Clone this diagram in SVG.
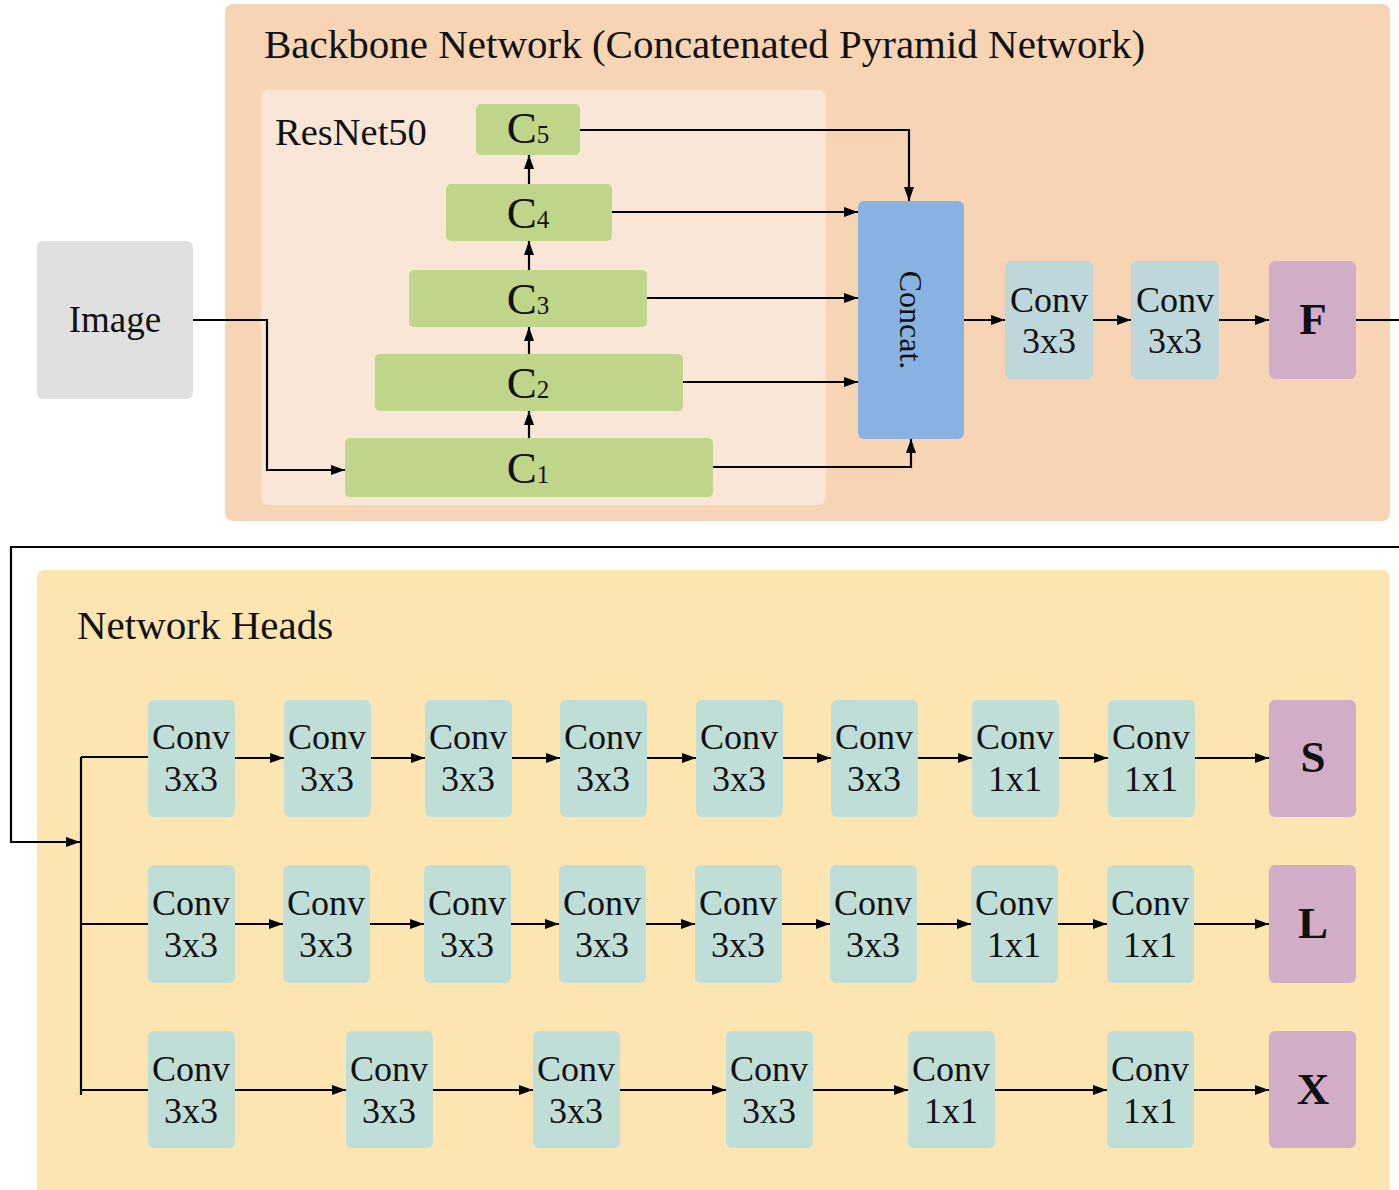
<svg xmlns="http://www.w3.org/2000/svg" width="1399" height="1190" viewBox="0 0 1399 1190" font-family="'Liberation Serif', 'Times New Roman', Times, serif">
<defs>
<marker id="ah" viewBox="0 0 14 10" refX="14" refY="5" markerWidth="14" markerHeight="10" markerUnits="userSpaceOnUse" orient="auto"><path d="M0,0 L14,5 L0,10 z" fill="#000"/></marker>
</defs>
<style>
text{fill:#111}
.t{font-size:41px}
.lbl{font-size:36px;text-anchor:middle}
.big{font-size:45px;font-weight:bold;text-anchor:middle}
.cl{font-size:45px;text-anchor:middle}
.sub{font-size:25px}
.conv{fill:#C0DED8}
.bconv{fill:#BDD7DB}
.green{fill:#BFD58A}
.out{fill:#D1ADC8}
.ln{fill:none;stroke:#000;stroke-width:2.2}
.ar{fill:none;stroke:#000;stroke-width:2.2;marker-end:url(#ah)}
</style>
<rect x="0" y="0" width="1399" height="1190" fill="#fff"/>
<g id="backbone">
<rect x="225" y="4" width="1165" height="517" rx="8" fill="#F7D4B4"/>
<text class="t" x="264" y="58">Backbone Network (Concatenated Pyramid Network)</text>
</g>
<g id="resnet50">
<rect x="261" y="90" width="565" height="415" rx="8" fill="#FAE6D7"/>
<text x="275" y="145" style="font-size:38.5px">ResNet50</text>
</g>
<g id="heads">
<rect x="37" y="570" width="1353" height="630" rx="8" fill="#FCE5B1"/>
<text class="t" x="77" y="639">Network Heads</text>
</g>
<g id="image"><rect x="37" y="241" width="156" height="158" rx="6" fill="#E0E0E0"/><text x="115" y="332" style="font-size:37px;text-anchor:middle">Image</text></g>
<g id="c5"><rect class="green" x="476" y="104" width="104" height="51" rx="5"/><text class="cl" x="528" y="143">C<tspan class="sub">5</tspan></text></g>
<g id="c4"><rect class="green" x="446" y="184" width="166" height="57" rx="5"/><text class="cl" x="528" y="228">C<tspan class="sub">4</tspan></text></g>
<g id="c3"><rect class="green" x="409" y="270" width="238" height="57" rx="5"/><text class="cl" x="528" y="314">C<tspan class="sub">3</tspan></text></g>
<g id="c2"><rect class="green" x="375" y="354" width="308" height="57" rx="5"/><text class="cl" x="528" y="398">C<tspan class="sub">2</tspan></text></g>
<g id="c1"><rect class="green" x="345" y="438" width="368" height="59" rx="5"/><text class="cl" x="528" y="483">C<tspan class="sub">1</tspan></text></g>
<g id="concat"><rect x="858" y="201" width="106" height="238" rx="6" fill="#88B2E2"/><text transform="translate(911,320) rotate(90)" x="0" y="11" style="font-size:32px;text-anchor:middle">Concat.</text></g>
<g id="bconv1"><rect class="bconv" x="1005" y="261" width="88" height="118" rx="6"/><text class="lbl" x="1049" y="312">Conv</text><text class="lbl" x="1049" y="353">3x3</text></g>
<g id="bconv2"><rect class="bconv" x="1131" y="261" width="88" height="118" rx="6"/><text class="lbl" x="1175" y="312">Conv</text><text class="lbl" x="1175" y="353">3x3</text></g>
<g id="F"><rect class="out" x="1269" y="261" width="87" height="118" rx="6"/><text class="big" x="1313" y="334">F</text></g>

<g id="row-s">
<g id="s1"><rect class="conv" x="148" y="700" width="87" height="117" rx="6"/><text class="lbl" x="191" y="749">Conv</text><text class="lbl" x="191" y="791">3x3</text></g>
<g id="s2"><rect class="conv" x="284" y="700" width="87" height="117" rx="6"/><text class="lbl" x="327" y="749">Conv</text><text class="lbl" x="327" y="791">3x3</text></g>
<g id="s3"><rect class="conv" x="425" y="700" width="87" height="117" rx="6"/><text class="lbl" x="468" y="749">Conv</text><text class="lbl" x="468" y="791">3x3</text></g>
<g id="s4"><rect class="conv" x="560" y="700" width="87" height="117" rx="6"/><text class="lbl" x="603" y="749">Conv</text><text class="lbl" x="603" y="791">3x3</text></g>
<g id="s5"><rect class="conv" x="696" y="700" width="87" height="117" rx="6"/><text class="lbl" x="739" y="749">Conv</text><text class="lbl" x="739" y="791">3x3</text></g>
<g id="s6"><rect class="conv" x="831" y="700" width="87" height="117" rx="6"/><text class="lbl" x="874" y="749">Conv</text><text class="lbl" x="874" y="791">3x3</text></g>
<g id="s7"><rect class="conv" x="972" y="700" width="87" height="117" rx="6"/><text class="lbl" x="1015" y="749">Conv</text><text class="lbl" x="1015" y="791">1x1</text></g>
<g id="s8"><rect class="conv" x="1108" y="700" width="87" height="117" rx="6"/><text class="lbl" x="1151" y="749">Conv</text><text class="lbl" x="1151" y="791">1x1</text></g>
<g id="S"><rect class="out" x="1269" y="700" width="87" height="117" rx="6"/><text class="big" x="1313" y="772">S</text></g>
</g>
<g id="row-l">
<g id="l1"><rect class="conv" x="148" y="865" width="87" height="118" rx="6"/><text class="lbl" x="191" y="915">Conv</text><text class="lbl" x="191" y="957">3x3</text></g>
<g id="l2"><rect class="conv" x="283" y="865" width="87" height="118" rx="6"/><text class="lbl" x="326" y="915">Conv</text><text class="lbl" x="326" y="957">3x3</text></g>
<g id="l3"><rect class="conv" x="424" y="865" width="87" height="118" rx="6"/><text class="lbl" x="467" y="915">Conv</text><text class="lbl" x="467" y="957">3x3</text></g>
<g id="l4"><rect class="conv" x="559" y="865" width="87" height="118" rx="6"/><text class="lbl" x="602" y="915">Conv</text><text class="lbl" x="602" y="957">3x3</text></g>
<g id="l5"><rect class="conv" x="695" y="865" width="87" height="118" rx="6"/><text class="lbl" x="738" y="915">Conv</text><text class="lbl" x="738" y="957">3x3</text></g>
<g id="l6"><rect class="conv" x="830" y="865" width="87" height="118" rx="6"/><text class="lbl" x="873" y="915">Conv</text><text class="lbl" x="873" y="957">3x3</text></g>
<g id="l7"><rect class="conv" x="971" y="865" width="87" height="118" rx="6"/><text class="lbl" x="1014" y="915">Conv</text><text class="lbl" x="1014" y="957">1x1</text></g>
<g id="l8"><rect class="conv" x="1107" y="865" width="87" height="118" rx="6"/><text class="lbl" x="1150" y="915">Conv</text><text class="lbl" x="1150" y="957">1x1</text></g>
<g id="L"><rect class="out" x="1269" y="865" width="87" height="118" rx="6"/><text class="big" x="1313" y="938">L</text></g>
</g>
<g id="row-x">
<g id="x1"><rect class="conv" x="148" y="1031" width="87" height="117" rx="6"/><text class="lbl" x="191" y="1081">Conv</text><text class="lbl" x="191" y="1123">3x3</text></g>
<g id="x2"><rect class="conv" x="346" y="1031" width="87" height="117" rx="6"/><text class="lbl" x="389" y="1081">Conv</text><text class="lbl" x="389" y="1123">3x3</text></g>
<g id="x3"><rect class="conv" x="533" y="1031" width="87" height="117" rx="6"/><text class="lbl" x="576" y="1081">Conv</text><text class="lbl" x="576" y="1123">3x3</text></g>
<g id="x4"><rect class="conv" x="726" y="1031" width="87" height="117" rx="6"/><text class="lbl" x="769" y="1081">Conv</text><text class="lbl" x="769" y="1123">3x3</text></g>
<g id="x5"><rect class="conv" x="908" y="1031" width="87" height="117" rx="6"/><text class="lbl" x="951" y="1081">Conv</text><text class="lbl" x="951" y="1123">1x1</text></g>
<g id="x6"><rect class="conv" x="1107" y="1031" width="87" height="117" rx="6"/><text class="lbl" x="1150" y="1081">Conv</text><text class="lbl" x="1150" y="1123">1x1</text></g>
<g id="X"><rect class="out" x="1269" y="1031" width="87" height="117" rx="6"/><text class="big" x="1313" y="1104">X</text></g>
</g>

<g id="connectors">
<path class="ar" d="M193,320 H267 V470 H345"/>
<path class="ar" d="M529,184 V155"/>
<path class="ar" d="M529,270 V241"/>
<path class="ar" d="M529,354 V327"/>
<path class="ar" d="M529,438 V411"/>
<path class="ar" d="M580,130 H909 V201"/>
<path class="ar" d="M612,212 H858"/>
<path class="ar" d="M647,298 H858"/>
<path class="ar" d="M683,382 H858"/>
<path class="ar" d="M713,467 H911 V439"/>
<path class="ar" d="M964,320 H1005"/>
<path class="ar" d="M1093,320 H1131"/>
<path class="ar" d="M1219,320 H1269"/>
<path class="ar" d="M1356,320 H1399 M1399,547 H11 V842 H80"/>
<path class="ln" d="M81,757 V1095"/>
<path class="ln" d="M81,757 H148 M81,924 H148 M81,1090 H148"/>
<path class="ar" d="M235,758 H284"/><path class="ar" d="M371,758 H425"/><path class="ar" d="M512,758 H560"/><path class="ar" d="M647,758 H696"/><path class="ar" d="M783,758 H831"/><path class="ar" d="M918,758 H972"/><path class="ar" d="M1059,758 H1108"/><path class="ar" d="M1195,758 H1269"/>
<path class="ar" d="M235,924 H283"/><path class="ar" d="M370,924 H424"/><path class="ar" d="M511,924 H559"/><path class="ar" d="M646,924 H695"/><path class="ar" d="M782,924 H830"/><path class="ar" d="M917,924 H971"/><path class="ar" d="M1058,924 H1107"/><path class="ar" d="M1194,924 H1269"/>
<path class="ar" d="M235,1090 H346"/><path class="ar" d="M433,1090 H533"/><path class="ar" d="M620,1090 H726"/><path class="ar" d="M813,1090 H908"/><path class="ar" d="M995,1090 H1107"/><path class="ar" d="M1194,1090 H1269"/>
</g>
</svg>
